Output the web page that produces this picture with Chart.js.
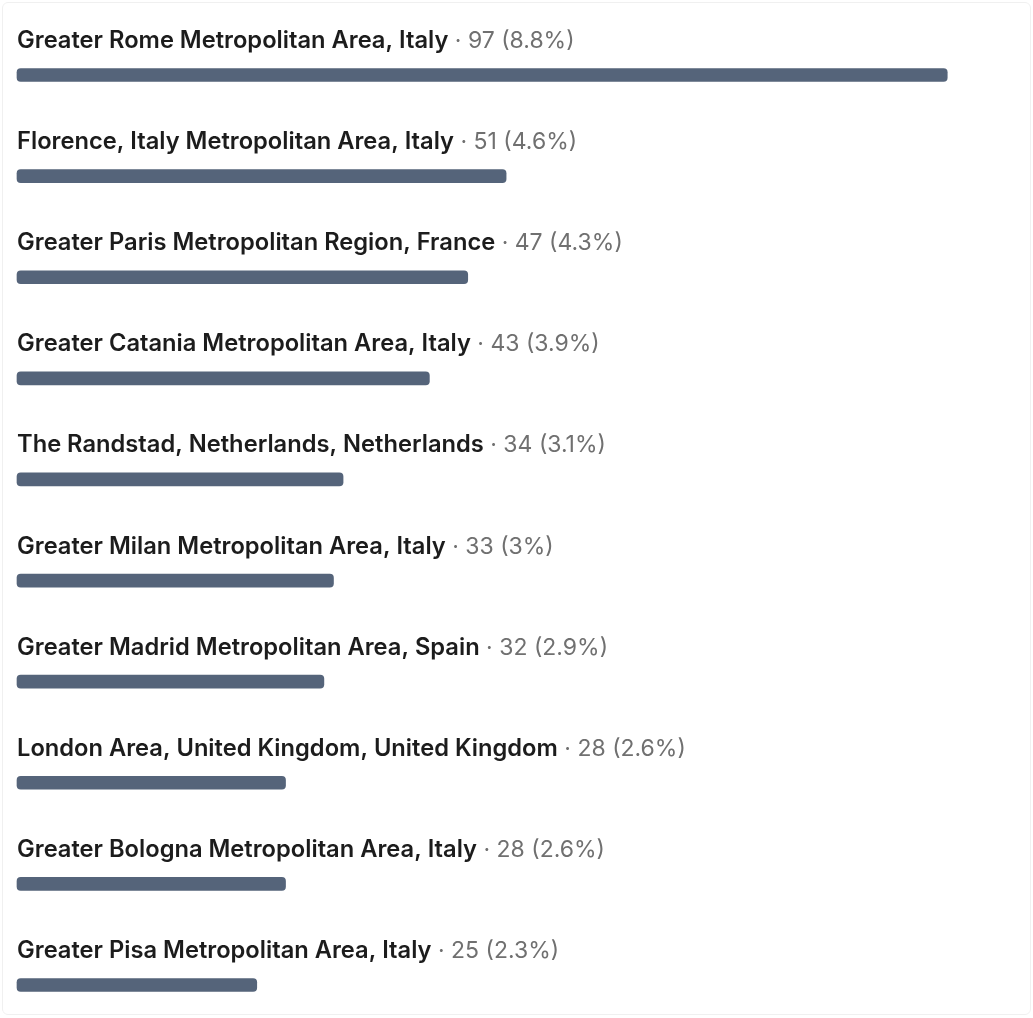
<!DOCTYPE html>
<html>
<head>
<meta charset="utf-8">
<script src="https://cdn.jsdelivr.net/npm/chart.js@4.4.1/dist/chart.umd.min.js"></script>
<style>
  html, body { margin: 0; padding: 0; background: #fff; }
  #wrap {
    position: relative;
    width: 1033px;
    height: 1018px;
  }
  #frame {
    position: absolute;
    left: 2px; top: 2px; right: 2px; bottom: 3px;
    border: 1px solid #f0f0f0;
    border-radius: 6px;
    pointer-events: none;
  }
</style>
</head>
<body>
<div id="wrap">
  <canvas id="locations" width="1033" height="1018"></canvas>
  <div id="frame"></div>
</div>
<script>
// Top locations data
var locations = [
  'Greater Rome Metropolitan Area, Italy',
  'Florence, Italy Metropolitan Area, Italy',
  'Greater Paris Metropolitan Region, France',
  'Greater Catania Metropolitan Area, Italy',
  'The Randstad, Netherlands, Netherlands',
  'Greater Milan Metropolitan Area, Italy',
  'Greater Madrid Metropolitan Area, Spain',
  'London Area, United Kingdom, United Kingdom',
  'Greater Bologna Metropolitan Area, Italy',
  'Greater Pisa Metropolitan Area, Italy'
];
var counts = [97, 51, 47, 43, 34, 33, 32, 28, 28, 25];
var shares = ['8.8%', '4.6%', '4.3%', '3.9%', '3.1%', '3%', '2.9%', '2.6%', '2.6%', '2.3%'];

var labelFont = '"Inter", "Roboto", sans-serif';

// Draws "Name · n (p%)" above each bar
var rowLabels = {
  id: 'rowLabels',
  afterDatasetsDraw: function (chart) {
    var ctx = chart.ctx;
    var meta = chart.getDatasetMeta(0);
    var left = chart.chartArea.left;
    ctx.save();
    ctx.textBaseline = 'alphabetic';
    ctx.textAlign = 'left';
    meta.data.forEach(function (bar, i) {
      var y = bar.y - 27;
      ctx.font = '600 23.7px ' + labelFont;
      ctx.fillStyle = '#1c1c1c';
      ctx.fillText(locations[i], left, y);
      var w = ctx.measureText(locations[i]).width;
      ctx.font = '400 23px ' + labelFont;
      ctx.fillStyle = '#707070';
      ctx.fillText(' \u00b7 ' + counts[i] + ' (' + shares[i] + ')', left + w, y);
    });
    ctx.restore();
  }
};

new Chart(document.getElementById('locations'), {
  type: 'bar',
  data: {
    labels: locations,
    datasets: [{
      data: counts,
      backgroundColor: '#55647a',
      borderRadius: 4,
      borderSkipped: false,
      barThickness: 13,
      clip: false
    }]
  },
  options: {
    indexAxis: 'y',
    responsive: false,
    animation: false,
    events: [],
    layout: {
      padding: { left: 17, right: 33, top: 75, bottom: 33 }
    },
    scales: {
      x: { display: false, min: 0, max: 102.5 },
      y: { display: false, offset: false }
    },
    plugins: {
      legend: { display: false },
      tooltip: { enabled: false }
    }
  },
  plugins: [rowLabels]
});
</script>
</body>
</html>
